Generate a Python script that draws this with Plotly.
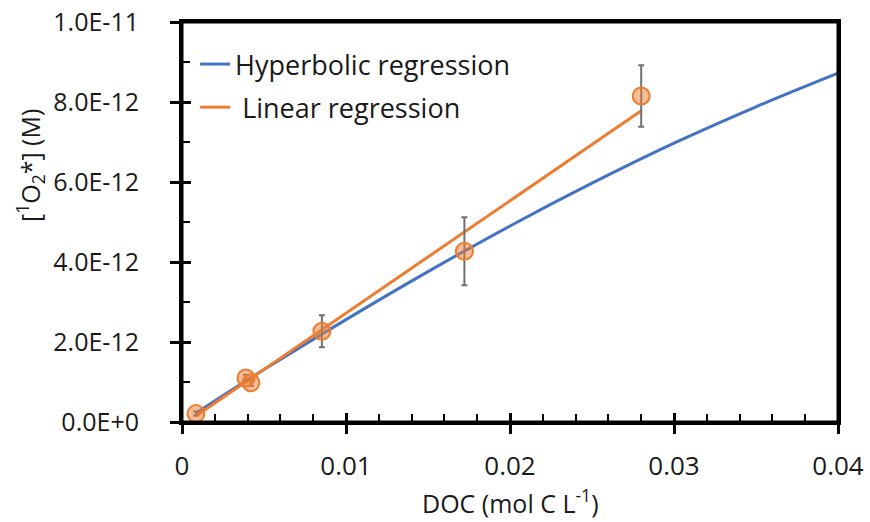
import plotly.graph_objects as go

# ---- data ----
doc = [0.00085, 0.0039, 0.0042, 0.00853, 0.01722, 0.0280]
o2 = [0.21e-12, 1.10e-12, 0.98e-12, 2.27e-12, 4.27e-12, 8.15e-12]
o2_err = [0.05e-12, 0.08e-12, 0.08e-12, 0.40e-12, 0.85e-12, 0.77e-12]

hyp_x = [0.00085, 0.005, 0.01, 0.015, 0.02, 0.025, 0.03, 0.035, 0.04]
hyp_y = [0.22e-12, 1.31e-12, 2.56e-12, 3.76e-12, 4.90e-12, 5.97e-12, 6.97e-12, 7.88e-12, 8.72e-12]

lin_x = [0.00085, 0.028]
lin_y = [0.15e-12, 7.78e-12]

x_ticks = [0, 0.01, 0.02, 0.03, 0.04]
x_ticktext = ["0", "0.01", "0.02", "0.03", "0.04"]
y_ticks = [0, 2e-12, 4e-12, 6e-12, 8e-12, 1e-11]
y_ticktext = ["0.0E+0", "2.0E-12", "4.0E-12", "6.0E-12", "8.0E-12", "1.0E-11"]

BLUE = "#4472C4"
ORANGE = "#ED7D31"
FONT = "Open Sans"
TXT = "#1a1a1a"

x_range = [0, 0.04]
y_range = [0, 1e-11]

fig = go.Figure()

fig.add_trace(go.Scatter(
    x=hyp_x, y=hyp_y, mode="lines", name="Hyperbolic regression",
    line=dict(color=BLUE, width=3, shape="spline"), legendgroup="a",
))
fig.add_trace(go.Scatter(
    x=lin_x, y=lin_y, mode="lines", name="\u00a0Linear regression",
    line=dict(color=ORANGE, width=3), legendgroup="b",
))
fig.add_trace(go.Scatter(
    x=doc, y=o2, mode="markers", showlegend=False,
    xaxis="x2", yaxis="y2",
    marker=dict(size=17, color="rgba(237,125,49,0.5)", line=dict(color=ORANGE, width=2)),
    error_y=dict(type="data", array=o2_err, visible=True, color="#707070", thickness=2, width=3),
))

axis_common = dict(
    showgrid=False, zeroline=False, automargin=False,
    ticklabeloverflow="allow",
)

fig.update_layout(
    width=870, height=522, autosize=False,
    margin=dict(l=182, r=32, t=22, b=100, pad=0),
    plot_bgcolor="white", paper_bgcolor="white",
    font=dict(family=FONT, color=TXT),
    xaxis=dict(
        range=x_range, tickvals=x_ticks, ticktext=x_ticktext,
        showline=True, linecolor="black", linewidth=3, mirror=True,
        ticks="outside", ticklen=9, tickwidth=3, tickcolor="black",
        minor=dict(dtick=0.002, ticks="inside", ticklen=8, tickwidth=2, tickcolor="black"),
        ticklabelstandoff=10,
        tickfont=dict(family=FONT, size=26, color=TXT),
        **axis_common,
    ),
    yaxis=dict(
        range=y_range, tickvals=y_ticks, ticktext=y_ticktext,
        showline=True, linecolor="black", linewidth=3, mirror=True,
        ticks="outside", ticklen=9, tickwidth=3, tickcolor="black",
        minor=dict(dtick=1e-12, ticks="inside", ticklen=8, tickwidth=2, tickcolor="black"),
        ticklabelstandoff=26,
        tickfont=dict(family=FONT, size=25, color=TXT),
        **axis_common,
    ),
    xaxis2=dict(
        range=x_range, overlaying="x", anchor="y2", side="bottom",
        tickvals=x_ticks, showticklabels=False, showline=False,
        ticks="inside", ticklen=9, tickwidth=3, tickcolor="black",
        showgrid=False, zeroline=False, automargin=False,
    ),
    yaxis2=dict(
        range=y_range, overlaying="y", anchor="x2", side="left",
        tickvals=y_ticks, showticklabels=False, showline=False,
        ticks="inside", ticklen=9, tickwidth=3, tickcolor="black",
        showgrid=False, zeroline=False, automargin=False,
    ),
    legend=dict(
        x=0.02, y=0.955, xanchor="left", yanchor="top",
        font=dict(family=FONT, size=27, color=TXT),
        bgcolor="rgba(0,0,0,0)", tracegroupgap=5, traceorder="grouped",
        itemwidth=30,
    ),
    shapes=[
        dict(type="rect", xref="paper", yref="paper", x0=0, x1=1, y0=0, y1=1,
             line=dict(color="black", width=3), fillcolor="rgba(0,0,0,0)", layer="above"),
    ],
    annotations=[
        dict(text="[<sup>1</sup>O<sub>2</sub>*] (M)", textangle=-90,
             x=-0.2317, y=0.64, xref="paper", yref="paper",
             xanchor="center", yanchor="middle", showarrow=False,
             font=dict(family=FONT, size=25, color=TXT)),
        dict(text="DOC (mol C L<sup>-1</sup>)",
             x=0.5, y=-0.1975, xref="paper", yref="paper",
             xanchor="center", yanchor="middle", showarrow=False,
             font=dict(family=FONT, size=25, color=TXT)),
    ],
)

fig.write_html(
    "out.html",
    config={"displayModeBar": False},
    post_script="document.body.style.margin='0';document.body.style.overflow='hidden';",
)
